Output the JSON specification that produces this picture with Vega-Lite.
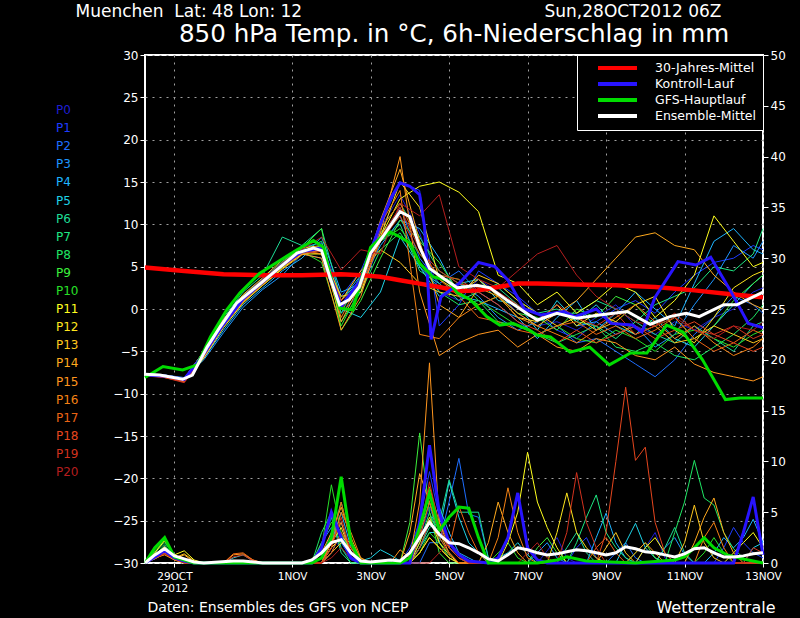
{
  "$schema": "https://vega.github.io/schema/vega-lite/v6.json",
  "autosize": "none",
  "width": 618,
  "height": 508,
  "padding": {"left": 145, "top": 55, "right": 37, "bottom": 55},
  "background": "black",
  "title": {
    "text": "850 hPa Temp. in °C, 6h-Niederschlag in mm",
    "color": "white",
    "font": "DejaVu Sans",
    "fontSize": 24.6,
    "fontWeight": "normal",
    "anchor": "middle",
    "offset": 0,
    "dy": 46
  },
  "datasets": {
    "tm": [
      {"m": "P0", "h": [0,12,24,36,48,60,72,84,96,108,120,132,144,156,168,180,192,204,216,228,240,252,264,276,288,300,312,324,336,348,360,372,378], "t": [-7.8,-7.9,-8.4,-5.6,-2.0,1.0,3.0,5.0,6.8,7.5,0.2,2.5,9.5,13.5,9.0,2.0,1.0,3.5,2.0,-0.5,-2.0,-1.5,-2.5,-1.0,0.5,-2.0,-3.0,-1.5,-2.5,-1.0,0.0,2.0,2.5]},
      {"m": "P1", "h": [0,12,24,36,48,60,72,84,96,108,120,132,144,156,168,180,192,204,216,228,240,252,264,276,288,300,312,324,336,348,360,372,378], "t": [-7.7,-7.8,-8.2,-5.0,-1.2,1.6,3.6,5.6,7.3,7.8,1.5,4.5,10.0,15.0,14.0,-2.0,0.5,4.5,3.0,1.5,-0.5,-2.5,-3.5,-1.5,0.0,1.0,-0.5,2.0,4.0,5.5,6.0,7.5,7.0]},
      {"m": "P2", "h": [0,12,24,36,48,60,72,84,96,108,120,132,144,156,168,180,192,204,216,228,240,252,264,276,288,300,312,324,336,348,360,372,378], "t": [-7.9,-8.0,-8.3,-5.5,-1.8,1.0,3.0,5.0,6.5,6.0,-0.5,2.0,8.0,12.0,6.0,3.0,4.5,2.0,0.5,-1.5,-3.0,-2.0,-4.0,-3.5,-5.0,-6.5,-8.0,-6.0,-3.0,-1.0,1.5,0.5,-0.5]},
      {"m": "P3", "h": [0,12,24,36,48,60,72,84,96,108,120,132,144,156,168,180,192,204,216,228,240,252,264,276,288,300,312,324,336,348,360,372,378], "t": [-7.6,-7.8,-8.1,-6.0,-2.8,0.2,2.3,4.0,6.5,7.0,1.0,4.0,9.0,11.0,5.0,2.5,3.0,1.5,-1.0,-2.5,-1.5,0.5,-2.0,-1.5,-3.0,-2.0,-4.5,-3.0,0.5,3.5,7.5,6.0,8.0]},
      {"m": "P4", "h": [0,12,24,36,48,60,72,84,96,108,120,132,144,156,168,180,192,204,216,228,240,252,264,276,288,300,312,324,336,348,360,372,378], "t": [-7.8,-8.0,-8.5,-5.8,-2.5,0.5,2.5,4.5,6.0,8.5,2.0,3.0,7.5,10.5,9.5,6.0,1.5,1.0,0.0,-1.0,-3.5,-1.0,1.0,-2.5,-0.5,2.0,0.0,-2.0,3.0,8.0,9.5,7.0,6.5]},
      {"m": "P5", "h": [0,12,24,36,48,60,72,84,96,108,120,132,144,156,168,180,192,204,216,228,240,252,264,276,288,300,312,324,336,348,360,372,378], "t": [-7.9,-7.9,-8.2,-5.2,-1.4,1.5,3.5,5.5,7.0,7.0,0.0,-1.0,2.0,8.5,5.0,1.5,3.0,3.5,1.0,0.5,-2.5,1.0,-1.5,0.5,-2.0,-3.0,-1.0,-3.5,-4.5,-2.0,0.5,3.0,4.0]},
      {"m": "P6", "h": [0,12,24,36,48,60,72,84,96,108,120,132,144,156,168,180,192,204,216,228,240,252,264,276,288,300,312,324,336,348,360,372,378], "t": [-7.7,-7.8,-8.2,-5.0,-1.0,2.0,4.0,8.5,7.5,9.5,1.0,3.5,8.0,10.0,4.5,3.0,1.0,2.0,2.5,0.5,-1.5,-0.5,-0.5,1.0,0.0,-1.5,-3.0,-4.0,-2.0,-3.5,-5.0,-2.0,-1.5]},
      {"m": "P7", "h": [0,12,24,36,48,60,72,84,96,108,120,132,144,156,168,180,192,204,216,228,240,252,264,276,288,300,312,324,336,348,360,372,378], "t": [-7.8,-7.9,-8.3,-5.3,-1.5,1.3,3.3,5.5,7.0,8.0,-0.5,4.0,9.5,12.5,8.5,4.5,3.0,2.0,3.0,1.0,-0.5,0.0,-1.5,-2.0,-3.5,-1.5,0.5,1.5,2.5,5.0,4.5,6.5,9.5]},
      {"m": "P8", "h": [0,12,24,36,48,60,72,84,96,108,120,132,144,156,168,180,192,204,216,228,240,252,264,276,288,300,312,324,336,348,360,372,378], "t": [-7.8,-8.0,-8.4,-5.6,-1.9,0.9,2.9,4.9,6.6,7.5,-1.5,2.0,7.0,9.0,5.5,2.0,0.5,1.0,-1.5,-2.0,-3.0,-4.0,-3.0,-2.0,-4.5,-5.0,-4.0,-5.5,-6.0,-4.5,-3.0,-1.0,0.5]},
      {"m": "P9", "h": [0,12,24,36,48,60,72,84,96,108,120,132,144,156,168,180,192,204,216,228,240,252,264,276,288,300,312,324,336,348,360,372,378], "t": [-7.7,-7.9,-8.3,-5.2,-1.4,1.5,3.5,5.6,7.2,9.5,-2.5,1.0,6.0,10.5,8.0,5.5,2.0,0.5,1.5,-0.5,-1.0,-2.5,0.0,-1.0,1.5,0.5,-2.0,-1.0,-3.5,-2.0,1.0,3.0,4.0]},
      {"m": "P10", "h": [0,12,24,36,48,60,72,84,96,108,120,132,144,156,168,180,192,204,216,228,240,252,264,276,288,300,312,324,336,348,360,372,378], "t": [-7.8,-7.9,-8.3,-5.4,-1.6,1.2,3.2,5.2,6.8,5.5,-2.0,2.5,8.0,9.5,6.5,4.0,3.5,1.0,-0.5,-2.0,-3.0,-2.0,-3.5,-4.0,-2.5,-3.5,-5.0,-3.0,-2.5,-3.5,-4.5,-3.0,-2.5]},
      {"m": "P11", "h": [0,12,24,36,48,60,72,84,96,108,120,132,144,156,168,180,192,204,216,228,240,252,264,276,288,300,312,324,336,348,360,372,378], "t": [-7.9,-8.0,-8.6,-5.8,-2.2,0.7,2.8,4.8,6.5,6.5,0.5,3.0,8.5,13.0,14.5,15.0,13.8,11.5,4.0,3.0,0.5,2.0,-0.5,1.0,3.0,2.0,-1.0,1.0,4.0,11.0,8.0,5.0,5.5]},
      {"m": "P12", "h": [0,12,24,36,48,60,72,84,96,108,120,132,144,156,168,180,192,204,216,228,240,252,264,276,288,300,312,324,336,348,360,372,378], "t": [-7.8,-8.0,-8.4,-5.5,-1.7,1.1,3.1,5.1,6.8,6.5,1.5,2.0,8.5,15.0,12.0,3.5,2.0,3.5,1.5,-1.0,-1.5,0.5,-2.0,-0.5,-1.5,0.5,1.5,-2.5,-4.0,-1.0,2.5,4.0,4.5]},
      {"m": "P13", "h": [0,12,24,36,48,60,72,84,96,108,120,132,144,156,168,180,192,204,216,228,240,252,264,276,288,300,312,324,336,348,360,372,378], "t": [-7.7,-7.8,-8.2,-5.0,-1.2,1.7,3.7,5.8,7.2,7.5,1.0,4.5,7.0,5.5,3.0,2.0,1.5,4.0,3.0,1.0,-0.5,-2.0,-1.0,-2.5,-1.5,-3.0,-2.0,-4.0,-3.5,-2.0,-3.0,-4.0,-3.5]},
      {"m": "P14", "h": [0,12,24,36,48,60,72,84,96,108,120,132,144,156,168,180,192,204,216,228,240,252,264,276,288,300,312,324,336,348,360,372,378], "t": [-7.8,-7.9,-8.3,-5.6,-2.0,0.8,2.8,4.7,6.4,7.0,-1.5,3.0,10.5,16.5,8.0,0.5,-1.0,2.5,1.5,-0.5,-2.0,-0.5,1.0,3.5,6.0,8.5,9.0,7.5,7.0,4.0,2.0,0.5,0.0]},
      {"m": "P15", "h": [0,12,24,36,48,60,72,84,96,108,120,132,144,156,168,180,192,204,216,228,240,252,264,276,288,300,312,324,336,348,360,372,378], "t": [-7.9,-8.0,-8.5,-5.7,-2.0,0.9,3.0,5.0,6.5,6.0,-2.5,1.5,9.0,18.0,2.0,-5.5,-4.0,-3.0,-2.5,-4.5,-3.0,-4.5,-5.0,-3.5,-4.0,-5.5,-6.0,-4.5,-6.5,-7.5,-8.0,-8.5,-8.0]},
      {"m": "P16", "h": [0,12,24,36,48,60,72,84,96,108,120,132,144,156,168,180,192,204,216,228,240,252,264,276,288,300,312,324,336,348,360,372,378], "t": [-7.8,-8.0,-8.4,-5.3,-1.6,1.3,3.3,5.2,6.9,6.5,-1.0,3.5,10.0,14.0,-3.0,-3.5,-1.0,0.5,1.5,-1.0,-2.0,-3.0,-4.0,-2.5,-1.0,0.5,-1.5,-3.5,-2.0,-4.0,-5.5,-4.5,-3.5]},
      {"m": "P17", "h": [0,12,24,36,48,60,72,84,96,108,120,132,144,156,168,180,192,204,216,228,240,252,264,276,288,300,312,324,336,348,360,372,378], "t": [-7.7,-7.9,-8.4,-5.4,-1.8,1.1,3.1,5.0,6.8,7.2,0.0,3.0,9.5,12.5,7.5,3.5,1.5,-1.0,-1.5,-2.5,-3.0,-2.0,-1.5,-3.0,-2.0,-3.5,-2.5,-1.0,-3.5,-5.0,-4.0,-2.5,-3.0]},
      {"m": "P18", "h": [0,12,24,36,48,60,72,84,96,108,120,132,144,156,168,180,192,204,216,228,240,252,264,276,288,300,312,324,336,348,360,372,378], "t": [-7.8,-8.1,-8.6,-5.5,-1.9,1.0,3.0,5.0,6.7,7.0,0.5,2.5,8.0,11.0,6.5,4.0,3.5,2.0,0.5,-1.5,-2.5,-4.0,-2.5,-4.0,-3.0,-2.0,-3.5,-2.5,-1.5,-3.0,-4.0,-5.0,-4.5]},
      {"m": "P19", "h": [0,12,24,36,48,60,72,84,96,108,120,132,144,156,168,180,192,204,216,228,240,252,264,276,288,300,312,324,336,348,360,372,378], "t": [-7.9,-8.1,-8.7,-5.6,-2.0,1.0,3.0,5.0,6.6,6.8,1.0,3.0,8.5,12.0,7.0,4.5,3.0,2.5,2.0,0.5,-1.5,0.5,-1.0,-2.0,-0.5,-3.0,-2.0,-0.5,-2.5,-3.0,-2.0,-3.5,-3.0]},
      {"m": "P20", "h": [0,12,24,36,48,60,72,84,96,108,120,132,144,156,168,180,192,204,216,228,240,252,264,276,288,300,312,324,336,348,360,372,378], "t": [-7.8,-8.0,-8.5,-5.2,-1.5,1.5,3.5,5.5,7.0,8.5,4.6,7.0,6.5,12.5,11.0,13.5,5.0,3.5,2.5,4.5,6.5,7.5,4.0,1.5,0.0,-1.5,-2.0,-1.0,-2.5,-3.5,-2.0,-2.5,-1.5]}
    ],
    "pm": [
      {"m": "P0", "h": [0,6,12,18,24,30,102,108,114,120,126,132,162,168,174,180,186,192,198,204,240,246,252,258,264,300,306,312,318,324,378], "p": [0,0.5,1.2,0.5,0.2,0,0,1,2.5,1.5,0.3,0,0,2.5,5.5,3,1.5,0.8,0.3,0,0,1.2,2.5,0.5,0,0,1.5,3,0.5,0,0]},
      {"m": "P1", "h": [0,6,12,18,24,30,102,108,114,120,126,132,156,162,168,174,180,186,192,198,258,264,270,276,282,348,354,360,366,372,378], "p": [0,0.8,1.5,0.6,0.3,0,0,0.5,3,4,1,0,0,1.5,4,9,4.5,2,1,0,0,1.5,2.5,0.5,0,0,1.5,3.5,2,1,0.5]},
      {"m": "P2", "h": [0,6,12,18,24,108,114,120,126,132,168,174,180,186,192,198,204,210,216,282,288,294,300,306,378], "p": [0,0.6,1.3,0.4,0,0,1.5,2.5,0.5,0,0,2,2,6,10.3,4.8,4.5,0.5,0,0,1,2,0.5,0,0]},
      {"m": "P3", "h": [0,6,12,18,24,30,102,108,114,120,126,132,162,168,174,180,186,192,198,234,240,246,252,258,312,318,324,330,336,378], "p": [0,0.7,1.6,0.8,0.2,0,0,2,3.5,2,0.5,0,0,3,7,3.5,1.5,0.5,0,0,1,2,0.5,0,0,1.5,2.5,0.8,0,0]},
      {"m": "P4", "h": [0,6,12,18,24,108,114,120,126,132,162,168,174,180,186,192,198,204,270,276,282,288,294,300,342,348,354,360,366,372,378], "p": [0,0.4,1,0.5,0,0,2,5,1.5,0,0,1.5,4,5.5,3,1,0.5,0,0,2.5,4.9,2,0.5,0,0,1,2.5,1.5,2.5,4.3,2]},
      {"m": "P5", "h": [0,6,12,18,24,30,48,54,60,66,72,108,114,120,126,132,138,144,150,156,162,168,174,180,186,192,198,204,210,222,228,234,240,288,294,300,306,312,318,366,372,378], "p": [0,0.5,0.9,0.6,0.3,0,0,0.5,0.8,0.2,0,0,1,3,1,0.2,0.5,1.3,0.8,0.2,0,1.5,3,3,8,4.5,2,1,0,1,2,0.8,0,0,2,3.9,1.5,0.5,0,0,1.5,2]},
      {"m": "P6", "h": [0,6,12,18,24,30,102,108,114,120,126,162,168,174,180,186,192,198,204,210,216,252,258,264,270,276,312,318,324,330,336,378], "p": [0,0.6,1.4,0.5,0.2,0,0,1.5,4.5,1,0,0,1.5,3.5,4,8.2,5,5,5,0.5,0,0,1.5,3,1,0,0,1.5,3.5,1,0,0]},
      {"m": "P7", "h": [0,6,12,18,24,108,114,120,126,132,162,168,174,180,186,192,258,264,270,276,282,288,294,300,378], "p": [0,0.7,1.8,0.5,0,0,2.5,6,2,0,0,2,5,2.5,1,0,0,2,4.5,6.7,3,1.5,0.5,0,0]},
      {"m": "P8", "h": [0,6,12,18,24,30,102,108,114,120,126,162,168,174,180,186,192,318,324,330,336,342,348,354,360,366,372,378], "p": [0,1,2,0.8,0.3,0,0,3,5,1.5,0,0,3,6,2,0.5,0,0,3,6,10.1,6.4,5.7,3,1.4,0.5,0,0]},
      {"m": "P9", "h": [0,6,12,18,24,30,102,108,114,120,126,132,156,162,168,174,180,186,234,240,246,252,258,294,300,306,312,318,378], "p": [0,1.2,2.2,0.7,0.2,0,0,2,4,3,1,0,0,4,12.8,5,1,0,0,1.5,2.5,1,0,0,1,2,0.5,0,0]},
      {"m": "P10", "h": [0,6,12,18,24,30,102,108,114,120,126,132,162,168,174,180,186,192,210,216,222,228,234,336,342,348,354,360,378], "p": [0,1,2.4,0.6,0.2,0,0,1.5,7.7,3,0.5,0,0,1,3,2,1,0,0,1,2,0.5,0,0,1,2.5,1,0,0]},
      {"m": "P11", "h": [0,6,12,18,24,30,36,108,114,120,126,132,138,162,168,174,180,186,192,216,222,228,234,240,246,252,258,300,306,312,318,324,354,360,366,372,378], "p": [0,1,2.2,0.8,1.2,0.3,0,0,1.5,2.5,2,0.5,0,0,1,2.5,1.5,0.5,0,0,2,5,10.9,6,3.5,1.5,0,0,1.5,2.5,1,0,0,1,2,3,1.5]},
      {"m": "P12", "h": [0,6,12,18,24,30,108,114,120,126,132,162,168,174,180,186,192,246,252,258,264,270,276,282,378], "p": [0,0.8,1.6,0.5,0.2,0,0,2,3.5,1,0,0,2,4.5,2,0.8,0,0,3,6.9,3,1.5,0.5,0,0]},
      {"m": "P13", "h": [0,6,12,18,24,30,36,108,114,120,126,132,162,168,174,180,186,192,276,282,288,294,300,324,330,336,342,348,354,378], "p": [0,0.5,1,0.5,0.9,0.2,0,0,1,2,1.5,0,0,1,2.5,1.5,0.5,0,0,1.5,3,1,0,0,2,5.7,2,0.5,0,0]},
      {"m": "P14", "h": [0,6,12,18,24,30,36,102,108,114,120,126,132,138,156,162,168,174,180,186,192,204,210,216,222,228,234,330,336,342,348,354,360,366,378], "p": [0,0.6,1.2,0.4,0.8,0.1,0,0,1,3,5.5,2.5,0.3,0,0,3,8.8,6,3,1,0,0,2,6,3,1,0,0,2,4.5,6.4,3,1,0,0]},
      {"m": "P15", "h": [0,6,12,18,24,48,54,60,66,72,108,114,120,126,132,150,156,162,168,174,180,186,192,198,294,300,306,312,318,378], "p": [0,0.5,0.8,0.3,0,0,0.8,0.9,0.3,0,0,2,4,1,0,0,1.3,0.5,6,19.7,4,1.5,0.5,0,0,1,2,1,0,0]},
      {"m": "P16", "h": [0,6,12,18,24,108,114,120,126,132,138,162,168,174,180,186,192,198,210,216,222,228,234,240,336,342,348,354,360,378], "p": [0,0.4,0.9,0.3,0,0,1.5,5,3,0.5,0,0,3,7.5,4,2,1,0,0,2.5,7.4,3,0.5,0,0,2.5,4,1.5,0,0]},
      {"m": "P17", "h": [0,6,12,18,24,48,54,60,66,72,108,114,120,126,132,162,168,174,180,186,192,198,204,210,270,276,282,288,294,378], "p": [0,0.5,1,0.4,0,0,0.9,1,0.3,0,0,2,6,2,0,0,2.5,6,3,1.5,5.6,3,1,0,0,1.5,2.5,1,0,0]},
      {"m": "P18", "h": [0,6,12,18,24,30,108,114,120,126,132,162,168,174,180,186,192,276,282,288,294,300,306,312,318,324,378], "p": [0,0.6,1.1,0.5,0.2,0,0,1,3,1.5,0,0,1.5,4,2.5,1,0,0,3,10,17.3,10.1,11.4,4,1,0,0]},
      {"m": "P19", "h": [0,6,12,18,24,30,48,54,60,66,72,108,114,120,126,132,162,168,174,180,186,192,198,252,258,264,270,276,282,366,372,378], "p": [0,0.7,1.3,0.6,0.2,0,0,0.6,0.8,0.2,0,0,1.5,4.5,1,0,0,3,8,3.5,1.5,0.5,0,0,3,8.9,4,1.5,0,0,1.5,1]},
      {"m": "P20", "h": [0,6,12,18,24,108,114,120,126,132,174,180,186,192,198,228,234,240,246,252,378], "p": [0,0.5,0.9,0.4,0,0,0.5,1.5,0.5,0,0,1,2,1,0,0,1,2,0.5,0,0]}
    ],
    "tmain": [
      {"s": "30-Jahres-Mittel", "h": [0,24,48,72,96,120,132,144,156,168,180,192,204,216,228,240,264,288,312,336,360,378], "v": [4.9,4.5,4.1,4.0,4.0,4.1,4.0,3.8,3.4,3.0,2.6,2.1,2.2,2.6,3.0,3.0,2.9,2.8,2.6,2.2,1.7,1.4]},
      {"s": "Kontroll-Lauf", "h": [0,12,24,36,48,60,72,84,96,108,114,120,132,144,150,156,162,168,171,175,181,192,204,214,222,232,242,256,263,276,285,298,304,312,326,337,346,358,369,378], "v": [-7.8,-7.9,-8.3,-5.3,-1.8,1.2,3.2,5.2,6.8,7.2,3.5,0.3,3.5,10.0,13.0,14.9,14.5,13.5,9.7,-3.6,1.4,3.0,5.5,5.0,3.4,0.0,-0.7,-0.3,-0.9,0.0,-1.7,-1.9,-2.7,1.4,5.6,5.2,6.1,2.2,-1.7,-2.2]},
      {"s": "GFS-Hauptlauf", "h": [0,11,23,32,40,50,58,70,83,93,103,109,114,119,127,131,138,144,150,156,162,168,176,185,191,199,209,217,225,235,240,248,260,272,284,297,307,319,329,341,355,364,378], "v": [-8.1,-6.8,-7.2,-6.6,-3.3,-0.1,1.9,4.2,5.8,7.0,8.1,7.3,3.4,0.1,-0.1,2.6,7.3,8.4,9.1,8.5,7.8,5.4,3.8,3.4,1.9,1.1,-0.9,-1.9,-1.7,-2.5,-3.1,-3.3,-5.1,-4.5,-6.6,-5.2,-5.2,-1.9,-2.7,-6.0,-10.7,-10.5,-10.5]},
      {"s": "Ensemble-Mittel", "h": [0,9,23,29,38,46,56,68,83,93,103,108,113,119,125,131,138,146,156,162,168,174,182,191,203,211,221,235,240,252,264,278,295,309,321,331,339,354,362,378], "v": [-7.7,-7.8,-8.3,-7.8,-4.5,-2.1,0.7,2.6,5.0,6.6,7.2,6.9,3.8,0.5,1.1,2.6,6.6,8.7,11.5,10.9,7.3,4.8,3.7,2.5,2.8,2.5,1.1,-0.7,-1.3,-0.5,-1.1,-0.7,-0.3,-1.8,-0.9,-0.5,-0.9,0.5,0.5,2.0]}
    ],
    "pmain": [
      {"s": "Kontroll-Lauf", "h": [0,6,12,18,24,30,102,108,114,120,126,132,162,168,174,180,186,192,198,210,216,222,228,234,240,246,360,366,372,378], "v": [0,0.6,1.2,0.5,0.2,0,0,1.5,5.0,2.5,0.5,0,0,4.0,11.6,5.0,2.0,0.8,0.2,0,0.5,2.5,6.9,1.5,0.3,0,0,3.0,6.5,0.8]},
      {"s": "GFS-Hauptlauf", "h": [0,6,12,18,24,30,102,108,114,120,126,132,156,162,168,174,180,186,192,198,204,210,240,252,258,270,300,324,330,336,342,348,356,366,378], "v": [0,1.5,2.5,0.6,0.3,0,0,0.5,2.5,8.5,2.0,0,0,0.5,3.5,6.9,3.2,4.5,5.5,5.4,2.5,0,0,0.3,0.6,0.2,0,0.3,0.6,1.5,2.5,1.5,0.8,0.4,0]},
      {"s": "Ensemble-Mittel", "h": [0,6,12,18,24,30,36,54,60,72,96,102,108,114,120,126,132,138,150,156,162,168,174,180,186,192,198,204,210,216,222,228,234,240,246,252,258,264,270,276,282,288,294,300,306,312,318,324,330,336,342,348,354,360,366,372,378], "v": [0,0.8,1.4,0.7,0.4,0.1,0,0.2,0.2,0,0,0.3,1.0,2.0,2.3,1.0,0.2,0.1,0.3,0.2,1.0,2.5,4.0,2.8,2.0,1.9,1.5,1.0,0.4,0.2,0.8,1.5,1.3,1.0,0.8,0.9,1.1,1.3,1.2,1.0,0.8,1.0,1.6,1.4,1.1,1.0,0.8,0.6,0.9,1.4,1.5,1.0,0.6,0.6,0.7,0.9,1.0]}
    ]
  },
  "resolve": {"scale": {"y": "independent"}, "axis": {"x": "independent"}},
  "layer": [
    {
      "data": {"name": "tm"},
      "transform": [{"flatten": ["h", "t"]}],
      "mark": {"type": "line", "strokeWidth": 1},
      "encoding": {
        "x": {
          "field": "h",
          "type": "quantitative",
          "scale": {"domain": [0, 378], "nice": false},
          "axis": {
            "orient": "bottom",
            "values": [18, 90, 138, 186, 234, 282, 330, 378],
            "labelExpr": "datum.value == 18 ? ['29OCT', '2012'] : datum.value == 90 ? '1NOV' : datum.value == 138 ? '3NOV' : datum.value == 186 ? '5NOV' : datum.value == 234 ? '7NOV' : datum.value == 282 ? '9NOV' : datum.value == 330 ? '11NOV' : '13NOV'",
            "labelFontSize": 10.5,
            "labelPadding": 4,
            "labelFlush": false,
            "labelOverlap": false,
            "tickSize": 4,
            "grid": true,
            "title": "Daten: Ensembles des GFS von NCEP",
            "titleX": 2,
            "titleY": 48,
            "titleAlign": "left",
            "titleBaseline": "alphabetic",
            "titleFontSize": 14
          }
        },
        "y": {
          "field": "t",
          "type": "quantitative",
          "scale": {"domain": [-30, 30], "nice": false},
          "axis": {
            "orient": "left",
            "values": [-30, -25, -20, -15, -10, -5, 0, 5, 10, 15, 20, 25, 30],
            "labelFontSize": 12,
            "labelPadding": 2,
            "tickSize": 5,
            "grid": true,
            "title": "Muenchen\u00a0 Lat: 48 Lon: 12",
            "titleAngle": 0,
            "titleAlign": "left",
            "titleBaseline": "alphabetic",
            "titleX": -70,
            "titleY": -39,
            "titleFontSize": 17
          }
        },
        "color": {
          "field": "m",
          "type": "nominal",
          "scale": {
            "domain": ["P0","P1","P2","P3","P4","P5","P6","P7","P8","P9","P10","P11","P12","P13","P14","P15","P16","P17","P18","P19","P20"],
            "range": ["#1e1ed2","#1e3cff","#1e6eff","#1e96ff","#1eb4ff","#1ed2e6","#1edc96","#1ee682","#1ee664","#3cf03c","#28e028","#ffff1e","#ffe61e","#ffc81e","#ffaa1e","#ff961e","#f58214","#eb6414","#e6461e","#d2321e","#b41e1e"]
          },
          "legend": {
            "orient": "none",
            "legendX": -101,
            "legendY": 49,
            "title": null,
            "padding": 0,
            "symbolOpacity": 0,
            "symbolSize": 0,
            "labelOffset": 0,
            "labelFontSize": 12,
            "rowPadding": 6.1,
            "labelColor": {"expr": "scale('color', datum.value)"}
          }
        }
      }
    },
    {
      "data": {"name": "pm"},
      "transform": [{"flatten": ["h", "p"]}],
      "mark": {"type": "line", "strokeWidth": 1},
      "encoding": {
        "x": {"field": "h", "type": "quantitative", "axis": null},
        "y": {
          "field": "p",
          "type": "quantitative",
          "scale": {"domain": [0, 50], "nice": false},
          "axis": {
            "orient": "right",
            "values": [0, 5, 10, 15, 20, 25, 30, 35, 40, 45, 50],
            "labelFontSize": 12,
            "labelPadding": 2,
            "tickSize": 5,
            "grid": false,
            "title": "Sun,28OCT2012 06Z",
            "titleAngle": 0,
            "titleAlign": "right",
            "titleBaseline": "alphabetic",
            "titleX": -42,
            "titleY": -39,
            "titleFontSize": 17
          }
        },
        "color": {"field": "m", "type": "nominal"}
      }
    },
    {
      "data": {"name": "tmain"},
      "transform": [{"flatten": ["h", "v"]}],
      "mark": {"type": "line"},
      "encoding": {
        "x": {
          "field": "h",
          "type": "quantitative",
          "axis": {
            "orient": "top",
            "labels": false,
            "ticks": false,
            "grid": false,
            "title": "Wetterzentrale",
            "titleX": 630,
            "titleY": 557,
            "titleAlign": "right",
            "titleBaseline": "alphabetic",
            "titleFontSize": 16
          }
        },
        "y": {"field": "v", "type": "quantitative", "scale": {"domain": [-30, 30], "nice": false}, "axis": null},
        "stroke": {
          "field": "s",
          "type": "nominal",
          "scale": {
            "domain": ["30-Jahres-Mittel", "Kontroll-Lauf", "GFS-Hauptlauf", "Ensemble-Mittel"],
            "range": ["#ff0000", "#2814ff", "#00dc00", "#ffffff"]
          },
          "legend": {
            "orient": "top-right",
            "offset": 0,
            "title": null,
            "padding": 6,
            "fillColor": "black",
            "strokeColor": "white",
            "symbolType": "M-3.9,0H3.9",
            "symbolSize": 100,
            "symbolStrokeWidth": 4,
            "symbolOffset": 27.5,
            "labelOffset": 30.5,
            "labelFontSize": 12.5,
            "labelColor": "white",
            "rowPadding": 0
          }
        },
        "strokeWidth": {"condition": {"test": "datum.s === '30-Jahres-Mittel'", "value": 4.5}, "value": 3}
      }
    },
    {
      "data": {"name": "pmain"},
      "transform": [{"flatten": ["h", "v"]}],
      "mark": {"type": "line", "strokeWidth": 3},
      "encoding": {
        "x": {"field": "h", "type": "quantitative", "axis": null},
        "y": {"field": "v", "type": "quantitative", "scale": {"domain": [0, 50], "nice": false}, "axis": null},
        "stroke": {"field": "s", "type": "nominal"}
      }
    }
  ],
  "config": {
    "font": "DejaVu Sans",
    "view": {"stroke": "white", "strokeWidth": 2},
    "axis": {
      "domain": false,
      "labelColor": "white",
      "labelFont": "DejaVu Sans",
      "tickColor": "white",
      "titleColor": "white",
      "titleFont": "DejaVu Sans",
      "titleFontWeight": "normal",
      "gridColor": "#a0a0a0",
      "gridDash": [2, 5],
      "gridWidth": 1
    },
    "legend": {"labelFont": "DejaVu Sans"}
  }
}
